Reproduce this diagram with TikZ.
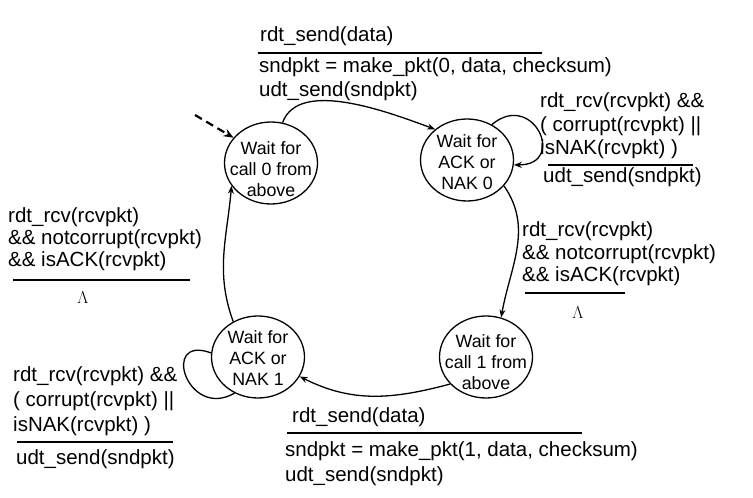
\documentclass[tikz,border=0pt]{standalone}
\usepackage{fontspec}
\setmainfont{Liberation Sans}
\usetikzlibrary{arrows.meta,shapes.geometric}
\begin{document}
\begin{tikzpicture}[x=1pt,y=1pt,
  state/.style={draw, line width=1.3pt, ellipse, minimum width=93pt, minimum height=82pt, inner sep=0pt},
  stext/.style={align=center, inner sep=0pt, font=\fontsize{17.8}{21}\selectfont},
  lbl/.style={anchor=base west, inner sep=0pt, align=left},
  rule/.style={line width=1.6pt},
  arr/.style={line width=1.3pt, -{Stealth[length=8pt,width=6pt]}},
  plain/.style={line width=1.3pt},
  initarr/.style={line width=2.2pt, dash pattern=on 8pt off 5pt, -{Stealth[length=10pt,width=8pt]}},
  lam/.style={inner sep=0pt, font=\fontsize{19}{19}\selectfont}]
\useasboundingbox (0,0) rectangle (753,498);

% states
\node[state] (s0) at (271,335) {};
\node[state] (s1) at (467,338) {};
\node[state] (s2) at (486,141) {};
\node[state] (s3) at (258,141) {};
\node[stext] (t0) at (271,329) {Wait for\\call 0 from\\above};
\node[stext] (t1) at (467,336) {Wait for\\ACK or\\NAK 0};
\node[stext] (t2) at (486,136) {Wait for\\call 1 from\\above};
\node[stext] (t3) at (258,140) {Wait for\\ACK or\\NAK 1};

% initial arrow
\coordinate (init) at (195,383);
\draw[initarr] (init) -- (s0.146);

% transitions
\draw[arr] (s0.74) to[out=70,in=160,looseness=0.8] (s1.136);
\draw[arr] (s1.55) to[out=40,in=0,looseness=3] (s1.-6);
\draw[arr] (s1.-35) to[out=-55,in=80] (s2.69);
\draw[arr] (s2.217) to[out=195,in=-27] (s3.-25);
\draw[arr] (s3.125) to[out=110,in=-95] (s0.210);
\draw[plain] (s3.175) to[out=160,in=210,looseness=3] (s3.237);

% top label
\node[lbl, font=\fontsize{20.5}{24}\selectfont] (a1) at (260,456) {rdt\_send(data)};
\draw[rule] (258,445) -- (542,445);
\node[lbl, font=\fontsize{20.5}{24}\selectfont] (a2) at (259,401) {sndpkt = make\_pkt(0, data, checksum)\\udt\_send(sndpkt)};

% top-right label
\node[lbl, font=\fontsize{20.5}{23.5}\selectfont] (b1) at (540,343) {rdt\_rcv(rcvpkt) \&\&\\( corrupt(rcvpkt) ||\\isNAK(rcvpkt) )};
\draw[rule] (548,333) -- (693,333);
\node[lbl, font=\fontsize{20.5}{24}\selectfont] (b2) at (543,315) {udt\_send(sndpkt)};

% right-middle label
\node[lbl, font=\fontsize{20.5}{22.5}\selectfont] (c1) at (522,216) {rdt\_rcv(rcvpkt)\\\&\& notcorrupt(rcvpkt)\\\&\& isACK(rcvpkt)};
\draw[rule] (525,205) -- (625,205);
\node[lam] (c2) at (578,185) {$\Lambda$};

% left label
\node[lbl, font=\fontsize{20.5}{22}\selectfont] (d1) at (8,231) {rdt\_rcv(rcvpkt)\\\&\& notcorrupt(rcvpkt)\\\&\& isACK(rcvpkt)};
\draw[rule] (13,218) -- (190,218);
\node[lam] (d2) at (83,200) {$\Lambda$};

% bottom-left label
\node[lbl, font=\fontsize{20.5}{25}\selectfont] (e1) at (13,66) {rdt\_rcv(rcvpkt) \&\&\\( corrupt(rcvpkt) ||\\isNAK(rcvpkt) )};
\draw[rule] (17,56) -- (173,56);
\node[lbl, font=\fontsize{20.5}{24}\selectfont] (e2) at (16,33) {udt\_send(sndpkt)};

% bottom label
\node[lbl, font=\fontsize{20.5}{24}\selectfont] (f1) at (292,75) {rdt\_send(data)};
\draw[rule] (287,65) -- (582,65);
\node[lbl, font=\fontsize{20.5}{25}\selectfont] (g1) at (285,16) {sndpkt = make\_pkt(1, data, checksum)\\udt\_send(sndpkt)};
\end{tikzpicture}
\end{document}
